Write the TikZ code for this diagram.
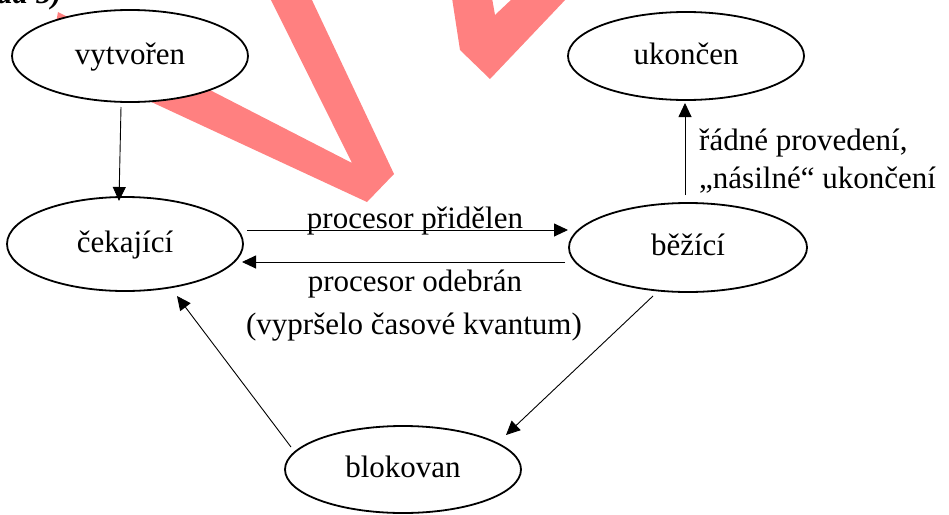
\documentclass[tikz,border=0pt]{standalone}
\usepackage{fontspec}
\setmainfont{Liberation Serif}
\usetikzlibrary{shapes.geometric,arrows.meta}
\definecolor{wm}{RGB}{255,128,128}
\begin{document}
\begin{tikzpicture}[x=1pt,y=-1pt,
  st/.style={draw, line width=1.8pt, fill=white, ellipse, inner sep=0pt,
    minimum width=236pt, text height=22pt, text depth=6pt,
    font=\fontsize{31}{37}\selectfont},
  arr/.style={line width=0.9pt, -{Triangle[length=14pt,width=13pt]}},
  lbl/.style={font=\fontsize{31}{37}\selectfont, inner sep=0pt}]
\useasboundingbox (0,0) rectangle (949,514);
\clip (0,0) rectangle (949,514);
% watermark strokes
\fill[wm] (270,-2) -- (352,163) -- (58,12) -- (50,55) -- (367,202) -- (394,174) -- (311,-2) -- cycle;
\fill[wm] (452,-2) -- (460,50) -- (490,79) -- (567,-2) -- (513,-2) -- (495,15) -- (492,-2) -- cycle;
% heading (cut off at the top)
\node[anchor=base west, inner sep=0pt, font=\fontsize{31}{37}\selectfont\bfseries\itshape] (hd) at (-3,4) {ad 5)};
% states
\node[st, minimum height=92pt] (vyt) at (130,56) {vytvořen};
\node[st, minimum height=88pt] (uko) at (686,56) {ukončen};
\node[st, minimum height=94pt] (cek) at (125,244) {čekající};
\node[st, minimum height=89pt, minimum width=238pt] (beh) at (688,247.5) {běžící};
\node[st, minimum height=87pt] (blo) at (403,469.5) {blokovan};
% transitions
\draw[arr] ([shift={(-9,51)}]vyt.center) -- ([shift={(-6,-43)}]cek.center);
\draw[arr] ([shift={(122,-14)}]cek.center) -- ([shift={(-120,-17.5)}]beh.center);
\draw[arr] ([shift={(-123,14.5)}]beh.center) -- ([shift={(117,18)}]cek.center);
\draw[arr] ([shift={(-112,-22.5)}]blo.center) -- ([shift={(52,52)}]cek.center);
\draw[arr] ([shift={(-35,48.5)}]beh.center) -- ([shift={(103,-34.5)}]blo.center);
\draw[arr] ([shift={(-3,-52.5)}]beh.center) -- ([shift={(-1,47)}]uko.center);
% labels
\node[lbl, anchor=base] (l1) at (415,228) {procesor přidělen};
\node[lbl, anchor=base] (l2) at (415,291) {procesor odebrán};
\node[lbl, anchor=base] (l3) at (414,334) {(vypršelo časové kvantum)};
\node[lbl, anchor=base west] (l4) at (699,150) {řádné provedení,};
\node[lbl, anchor=base west] (l5) at (699,188) {„násilné“ ukončení};
\end{tikzpicture}
\end{document}
